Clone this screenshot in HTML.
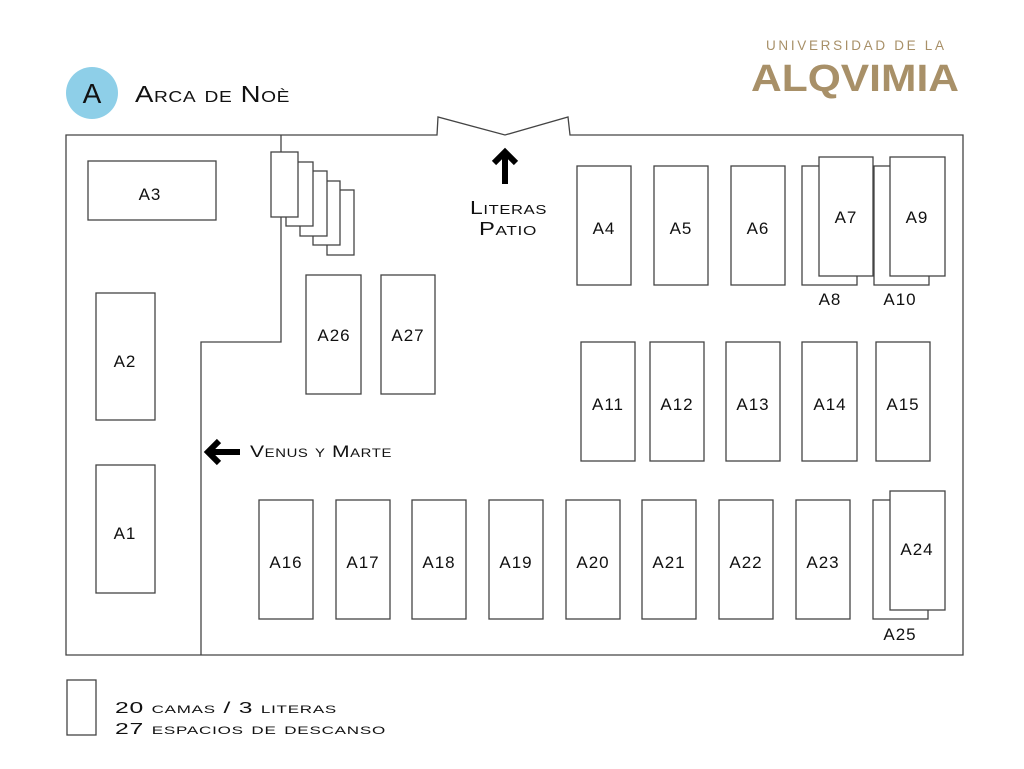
<!DOCTYPE html>
<html><head><meta charset="utf-8"><style>
html,body{margin:0;padding:0;background:#fff;}
svg{display:block}
text{font-family:"Liberation Sans",sans-serif;fill:#111;}
.l{font-size:17px;letter-spacing:1px;text-anchor:middle;}
.sc{font-variant:small-caps;letter-spacing:0.5px;}
</style></head><body>
<svg width="1024" height="769" viewBox="0 0 1024 769" xmlns="http://www.w3.org/2000/svg">
<g fill="none" stroke="#444" stroke-width="1.3">
<path d="M66,135 H437 L438,117 L505,135 L568,117 L570,135 H963 V655 H66 Z"/>
<path d="M281,135 V342 H201 V655"/>
<rect x="327" y="190" width="27" height="65"/>
<rect x="313" y="181" width="27" height="64" fill="#fff"/>
<rect x="300" y="171" width="27" height="65" fill="#fff"/>
<rect x="286" y="162" width="27" height="64" fill="#fff"/>
<rect x="271" y="152" width="27" height="65" fill="#fff"/>
<rect x="88" y="161" width="128" height="59"/>
<rect x="96" y="293" width="59" height="127"/>
<rect x="96" y="465" width="59" height="128"/>
<rect x="306" y="275" width="55" height="119"/>
<rect x="381" y="275" width="54" height="119"/>
<rect x="577" y="166" width="54" height="119"/>
<rect x="654" y="166" width="54" height="119"/>
<rect x="731" y="166" width="54" height="119"/>
<rect x="802" y="166" width="55" height="119"/>
<rect x="819" y="157" width="54" height="119" fill="#fff"/>
<rect x="874" y="166" width="55" height="119"/>
<rect x="890" y="157" width="55" height="119" fill="#fff"/>
<rect x="581" y="342" width="54" height="119"/>
<rect x="650" y="342" width="54" height="119"/>
<rect x="726" y="342" width="54" height="119"/>
<rect x="802" y="342" width="55" height="119"/>
<rect x="876" y="342" width="54" height="119"/>
<rect x="259" y="500" width="54" height="119"/>
<rect x="336" y="500" width="54" height="119"/>
<rect x="412" y="500" width="54" height="119"/>
<rect x="489" y="500" width="54" height="119"/>
<rect x="566" y="500" width="54" height="119"/>
<rect x="642" y="500" width="54" height="119"/>
<rect x="719" y="500" width="54" height="119"/>
<rect x="796" y="500" width="54" height="119"/>
<rect x="873" y="500" width="55" height="119"/>
<rect x="890" y="491" width="55" height="119" fill="#fff"/>
<rect x="67" y="680" width="29" height="55"/>
</g>
<g fill="none" stroke="#000" stroke-width="6" stroke-linejoin="miter">
<path d="M494,163 L505,152 L516,163"/>
<path d="M505,153 V184"/>
<path d="M219,441 L208,452 L219,463"/>
<path d="M209,452 H240"/>
</g>
<circle cx="92" cy="93" r="26" fill="#8ecfe8"/>
<text x="92" y="103" font-size="28" text-anchor="middle">A</text>
<text x="135" y="102" font-size="23" class="sc" textLength="155" lengthAdjust="spacingAndGlyphs">Arca de Noè</text>
<text x="766" y="50" font-size="13.5" textLength="178" lengthAdjust="spacing" style="fill:#a89068">UNIVERSIDAD DE LA</text>
<text x="751" y="91" font-size="38" font-weight="bold" textLength="208" lengthAdjust="spacingAndGlyphs" style="fill:#a89068">ALQVIMIA</text>
<text x="470" y="214" font-size="18" class="sc" textLength="77" lengthAdjust="spacingAndGlyphs">Literas</text>
<text x="479" y="235" font-size="18" class="sc" textLength="58" lengthAdjust="spacingAndGlyphs">Patio</text>
<text x="250" y="457" font-size="17" class="sc" textLength="142" lengthAdjust="spacingAndGlyphs">Venus y Marte</text>
<g class="l">
<text x="150" y="200">A3</text>
<text x="125" y="367">A2</text>
<text x="125" y="539">A1</text>
<text x="334" y="341">A26</text>
<text x="408" y="341">A27</text>
<text x="604" y="234">A4</text>
<text x="681" y="234">A5</text>
<text x="758" y="234">A6</text>
<text x="846" y="223">A7</text>
<text x="917" y="223">A9</text>
<text x="830" y="305">A8</text>
<text x="900" y="305">A10</text>
<text x="608" y="410">A11</text>
<text x="677" y="410">A12</text>
<text x="753" y="410">A13</text>
<text x="830" y="410">A14</text>
<text x="903" y="410">A15</text>
<text x="286" y="568">A16</text>
<text x="363" y="568">A17</text>
<text x="439" y="568">A18</text>
<text x="516" y="568">A19</text>
<text x="593" y="568">A20</text>
<text x="669" y="568">A21</text>
<text x="746" y="568">A22</text>
<text x="823" y="568">A23</text>
<text x="917" y="555">A24</text>
<text x="900" y="640">A25</text>
</g>
<text x="115" y="713" font-size="16" class="sc" textLength="222" lengthAdjust="spacingAndGlyphs">20 camas / 3 literas</text>
<text x="115" y="734" font-size="16" class="sc" textLength="271" lengthAdjust="spacingAndGlyphs">27 espacios de descanso</text>
</svg>
</body></html>
